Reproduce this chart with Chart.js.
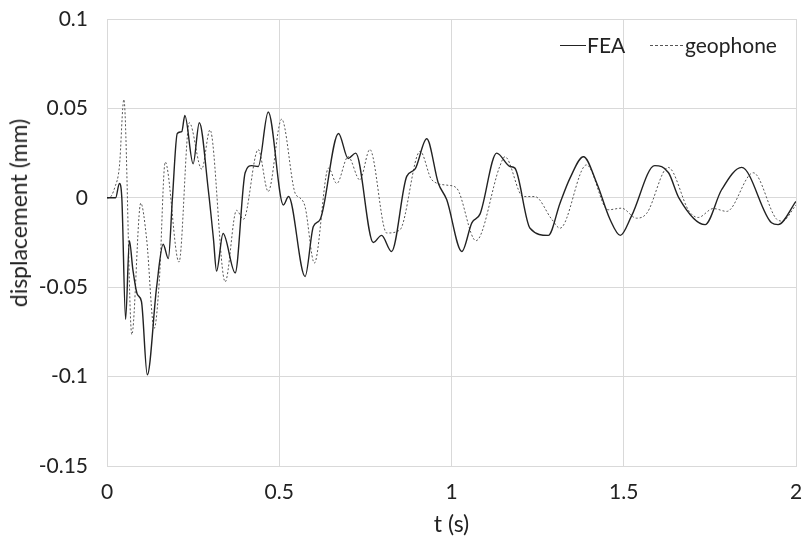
<!DOCTYPE html>
<html>
<head>
<meta charset="utf-8">
<script src="https://cdn.jsdelivr.net/npm/chart.js@4/dist/chart.umd.min.js"></script>
<style>
  body { margin: 0; background: #fff; }
  #wrap { position: relative; width: 803px; height: 545px; font-family: Lato, sans-serif; color: #222; }
  .leg { position: absolute; top: 31px; font-size: 21px; line-height: 28px; }
  .sample { position: absolute; top: 45px; height: 0; }
  #ytitle { position: absolute; left: 18px; top: 213px; font-size: 23px; white-space: nowrap;
    transform: translate(-50%, -50%) rotate(-90deg); }
</style>
</head>
<body>
<div id="wrap">
  <canvas id="chart" width="803" height="545"></canvas>
  <span class="sample" style="left:560px;width:26px;border-top:1.3px solid #222"></span>
  <span class="leg" style="left:587px">FEA</span>
  <span class="sample" style="left:650px;width:33px;border-top:1px dashed #555"></span>
  <span class="leg" style="left:685px">geophone</span>
  <div id="ytitle">displacement (mm)</div>
</div>
<script>
// values: time (s) and displacement (mm)
const feaT = [0, 0.025, 0.036, 0.043, 0.054, 0.065, 0.075, 0.088, 0.1, 0.117, 0.144, 0.163, 0.178, 0.19, 0.204, 0.217, 0.226,
  0.25, 0.268, 0.294, 0.309, 0.318, 0.337, 0.372, 0.401, 0.42, 0.439, 0.468, 0.512, 0.527, 0.575, 0.599, 0.619, 0.672,
  0.7, 0.722, 0.773, 0.797, 0.826, 0.87, 0.894, 0.928, 0.962, 0.986, 1.03, 1.059, 1.083, 1.131, 1.17, 1.184, 1.228,
  1.281, 1.315, 1.344, 1.383, 1.422, 1.46, 1.49, 1.523, 1.59, 1.63, 1.66, 1.736, 1.784, 1.842, 1.929, 1.948, 2.0];
const feaY = [0, 0, 0.008, 0.0, -0.068, -0.024, -0.04, -0.054, -0.058, -0.099, -0.05, -0.026, -0.034, 0.0, 0.036, 0.037, 0.046,
  0.019, 0.042, 0.0045, -0.023, -0.041, -0.02, -0.042, 0.014, 0.018, 0.0175, 0.048, -0.004, 0.0007, -0.044, -0.016, -0.012, 0.036,
  0.022, 0.025, -0.025, -0.021, -0.03, 0.012, 0.016, 0.033, 0.008, -0.001, -0.03, -0.014, -0.009, 0.025, 0.0175, 0.0166, -0.017,
  -0.021, -0.003, 0.011, 0.023, 0.008, -0.012, -0.021, -0.01, 0.018, 0.014, 0.0, -0.015, 0.0045, 0.017, -0.014, -0.015, -0.002];

const geoT = [0, 0.006, 0.023, 0.036, 0.049, 0.072, 0.098, 0.115, 0.137, 0.152, 0.169, 0.209, 0.239, 0.275, 0.299, 0.343,
  0.376, 0.396, 0.439, 0.468, 0.507, 0.546, 0.56, 0.575, 0.602, 0.643, 0.667, 0.7, 0.734, 0.763, 0.812, 0.85, 0.909, 0.943,
  0.99, 1.015, 1.071, 1.14, 1.155, 1.208, 1.242, 1.291, 1.315, 1.392, 1.455, 1.494, 1.537, 1.567, 1.629, 1.69, 1.716, 1.76,
  1.799, 1.876, 1.944, 1.96, 2.0];
const geoY = [0, 0, 0.006, 0.0175, 0.055, -0.0765, -0.003, -0.023, -0.073, -0.046, 0.02, -0.036, 0.042, 0.016, 0.038, -0.047,
  -0.007, -0.012, 0.027, 0.0035, 0.044, 0.0026, 0.0, -0.005, -0.0365, 0.0166, 0.008, 0.023, 0.01, 0.027, -0.0197, -0.018, 0.026, 0.01,
  0.007, 0.0054, -0.024, 0.0175, 0.023, 0.0007, 0.0007, -0.012, -0.017, 0.0184, -0.0067, -0.0058, -0.0114, -0.0086, 0.017, -0.0076, -0.011, -0.006,
  -0.0076, 0.014, -0.012, -0.013, -0.004];

const xTicks = [0, 0.5, 1, 1.5, 2];
const yTicks = [0.1, 0.05, 0, -0.05, -0.1, -0.15];

const toPoints = (ts, ys) => ts.map((t, i) => ({ x: t, y: ys[i] }));
const font = { family: 'Lato, sans-serif', size: 21 };

new Chart(document.getElementById('chart'), {
  type: 'line',
  data: {
    datasets: [
      { label: 'FEA', data: toPoints(feaT, feaY), borderColor: '#222', borderWidth: 1.4,
        pointRadius: 0, cubicInterpolationMode: 'monotone' },
      { label: 'geophone', data: toPoints(geoT, geoY), borderColor: '#555', borderWidth: 1,
        borderDash: [2, 2], pointRadius: 0, cubicInterpolationMode: 'monotone' }
    ]
  },
  options: {
    responsive: false,
    animation: false,
    layout: { padding: { top: 19, right: 7, left: 0, bottom: 0 } },
    plugins: { legend: { display: false }, tooltip: { enabled: false } },
    scales: {
      x: {
        type: 'linear', min: 0, max: 2,
        afterBuildTicks: s => { s.ticks = xTicks.map(v => ({ value: v })); },
        afterFit: s => { s.height = 79; s.paddingLeft = 0; s.paddingRight = 0; },
        ticks: { font, color: '#222', padding: 14, maxRotation: 0, callback: v => String(v) },
        grid: { color: '#d9d9d9', drawTicks: false },
        border: { color: '#d9d9d9' },
        title: { display: true, text: 't (s)', font: { family: 'Lato, sans-serif', size: 23 }, color: '#222', padding: { top: 0, bottom: 7 } }
      },
      y: {
        min: -0.15, max: 0.1,
        afterBuildTicks: s => { s.ticks = yTicks.map(v => ({ value: v })); },
        afterFit: s => { s.width = 107; s.paddingTop = 0; s.paddingBottom = 0; },
        ticks: { font, color: '#222', padding: 19, callback: v => String(Math.round(v * 100) / 100) },
        grid: { color: '#d9d9d9', drawTicks: false },
        border: { color: '#d9d9d9' }
      }
    }
  }
});
</script>
</body>
</html>
